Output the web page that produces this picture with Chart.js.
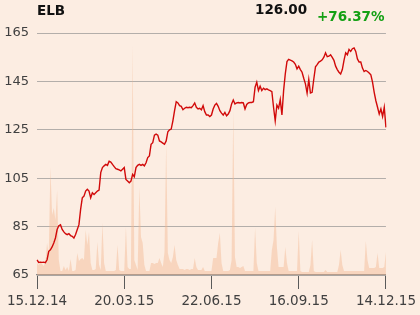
<!DOCTYPE html>
<html>
<head>
<meta charset="utf-8">
<script src="https://cdn.jsdelivr.net/npm/chart.js@4/dist/chart.umd.min.js"></script>
<style>
  html, body { margin: 0; padding: 0; background: #fcede2; }
  #wrap { position: relative; width: 420px; height: 315px; }
  .hdr { position: absolute; font-family: "DejaVu Sans", sans-serif; font-weight: bold; font-size: 13.5px; line-height: 16px; white-space: nowrap; }
</style>
</head>
<body>
<div id="wrap">
  <canvas id="chart" width="420" height="315"></canvas>
  <div class="hdr" style="left:37px; top:2px; color:#111;">ELB</div>
  <div class="hdr" style="left:255px; top:1px; color:#111;">126.00</div>
  <div class="hdr" style="left:317px; top:8px; color:#14a014;">+76.37%</div>
</div>
<script>
// x tick labels and where they sit in the series
const tickLabels = ['15.12.14', '20.03.15', '22.06.15', '16.09.15', '14.12.15'];
const tickIndex = [0, 52, 104, 156, 208];

// closing price
const prices = [
  71.3, 70.2, 70.3, 70.2, 70.3, 70.1, 71.3, 74.8, 75.4, 76.6,
  78.2, 80.3, 83.8, 85.4, 85.8, 83.8, 82.8, 82.1, 81.7, 82.1,
  81.3, 81.0, 80.3, 81.7, 83.8, 85.8, 92.1, 96.9, 97.6, 99.7,
  100.4, 99.7, 96.9, 99.0, 98.3, 99.0, 99.7, 100.1, 107.3, 109.4,
  110.1, 110.7, 110.3, 112.0, 111.7, 110.7, 109.8, 108.9, 108.7, 108.4,
  108.0, 108.7, 109.4, 104.5, 103.8, 103.1, 103.8, 106.6, 105.6, 109.4,
  110.3, 110.7, 110.3, 110.7, 110.1, 111.4, 113.5, 114.2, 119.0, 119.7,
  122.8, 123.2, 122.8, 120.4, 120.0, 119.5, 119.0, 120.4, 124.2, 125.0,
  125.3, 128.7, 132.9, 136.6, 136.1, 135.0, 134.7, 133.3, 133.9, 134.3,
  134.1, 134.3, 134.1, 135.0, 136.1, 134.3, 133.6, 133.9, 133.3, 135.0,
  132.5, 131.1, 131.1, 130.5, 131.1, 133.6, 135.2, 135.9, 134.7, 132.9,
  131.9, 131.1, 132.2, 130.8, 131.5, 132.9, 135.7, 137.3, 135.7, 136.1,
  136.3, 136.1, 136.3, 136.1, 133.6, 135.5, 136.1, 136.3, 136.3, 136.6,
  142.6, 144.7, 141.2, 143.0, 141.2, 142.2, 141.6, 141.9, 141.5, 141.2,
  140.8, 134.3, 128.7, 135.2, 133.9, 137.5, 131.1, 141.2, 148.1, 153.2,
  154.1, 153.8, 153.5, 153.0, 152.1, 150.2, 151.3, 149.9, 148.8, 146.3,
  144.0, 140.2, 145.8, 140.2, 140.5, 146.0, 151.0, 151.9, 153.0, 153.4,
  153.9, 155.0, 156.8, 155.2, 155.4, 156.0, 154.9, 153.7, 151.3, 149.9,
  148.8, 148.1, 149.9, 153.7, 156.8, 156.0, 158.2, 157.4, 158.5, 158.8,
  157.4, 154.3, 153.0, 153.0, 150.5, 149.1, 149.5, 149.1, 148.5, 147.7,
  144.7, 140.5, 137.0, 134.3, 131.5, 133.6, 130.5, 134.3, 126.0
];

// traded volume (thousands)
const volumes = [
  12, 10, 14, 11, 9, 13, 32, 20, 108, 60,
  67, 55, 85, 15, 4, 4, 9, 5, 8, 4,
  16, 4, 4, 5, 22, 14, 16, 17, 15, 45,
  30, 43, 12, 5, 5, 6, 33, 10, 5, 52,
  12, 4, 4, 4, 4, 4, 4, 5, 30, 5,
  4, 4, 4, 48, 8, 6, 6, 230, 15, 10,
  5, 88, 38, 32, 10, 4, 4, 4, 12, 12,
  11, 12, 12, 17, 12, 8, 23, 132, 22, 15,
  12, 18, 30, 15, 10, 6, 6, 6, 5, 6,
  6, 5, 6, 6, 17, 8, 5, 5, 5, 8,
  4, 4, 4, 4, 4, 17, 17, 17, 32, 42,
  12, 4, 4, 4, 4, 5, 15, 165, 18, 8,
  8, 7, 8, 9, 4, 4, 4, 4, 4, 4,
  47, 12, 4, 4, 4, 4, 4, 4, 4, 4,
  25, 35, 68, 28, 8, 8, 8, 8, 28, 12,
  4, 4, 4, 4, 4, 4, 44, 4, 3, 3,
  3, 3, 3, 10, 35, 4, 3, 3, 3, 3,
  3, 3, 5, 3, 3, 3, 3, 3, 3, 3,
  10, 25, 10, 4, 4, 4, 4, 4, 4, 4,
  4, 4, 4, 4, 4, 4, 34, 15, 7, 7,
  7, 7, 8, 22, 7, 7, 7, 8, 23
];

const labels = prices.map((p, i) => {
  const k = tickIndex.indexOf(i);
  return k >= 0 ? tickLabels[k] : '';
});

const bgPlugin = {
  id: 'bg',
  beforeDraw(chart) {
    const ctx = chart.ctx;
    ctx.save();
    ctx.fillStyle = '#fcede2';
    ctx.fillRect(0, 0, chart.width, chart.height);
    ctx.restore();
  }
};

new Chart(document.getElementById('chart'), {
  type: 'line',
  data: {
    labels: labels,
    datasets: [{
      label: 'Price',
      data: prices,
      yAxisID: 'y',
      borderColor: '#d10a0a',
      borderWidth: 1.4,
      pointRadius: 0,
      tension: 0,
      fill: false,
      order: 0
    }, {
      label: 'Volume',
      data: volumes,
      yAxisID: 'vol',
      borderWidth: 0,
      backgroundColor: 'rgba(244, 180, 140, 0.42)',
      pointRadius: 0,
      tension: 0,
      fill: 'start',
      order: 1
    }]
  },
  options: {
    responsive: false,
    animation: false,
    layout: { padding: { top: 33, right: 34, left: 0, bottom: 0 } },
    plugins: { legend: { display: false }, tooltip: { enabled: false } },
    scales: {
      x: {
        afterBuildTicks: s => { s.ticks = tickIndex.map(v => ({ value: v })); },
        afterFit: s => { s.height = 40; },
        ticks: {
          autoSkip: false,
          maxRotation: 0,
          padding: 4,
          color: '#404040',
          font: { family: 'DejaVu Sans', size: 13.5 },
          callback: (v) => labels[v]
        },
        grid: { drawOnChartArea: false, tickLength: 14, color: '#5a5a5a', lineWidth: 1 },
        border: { display: true, color: '#8a8a8a', width: 1.2 }
      },
      y: {
        position: 'left',
        min: 65,
        max: 165,
        afterFit: s => { s.width = 37; },
        ticks: {
          stepSize: 20,
          padding: 8,
          color: '#404040',
          font: { family: 'DejaVu Sans', size: 13 }
        },
        grid: { color: '#b3aeaa', lineWidth: 1, drawTicks: false },
        border: { display: false }
      },
      vol: {
        display: false,
        min: 0,
        max: 242
      }
    }
  },
  plugins: [bgPlugin]
});
</script>
</body>
</html>
